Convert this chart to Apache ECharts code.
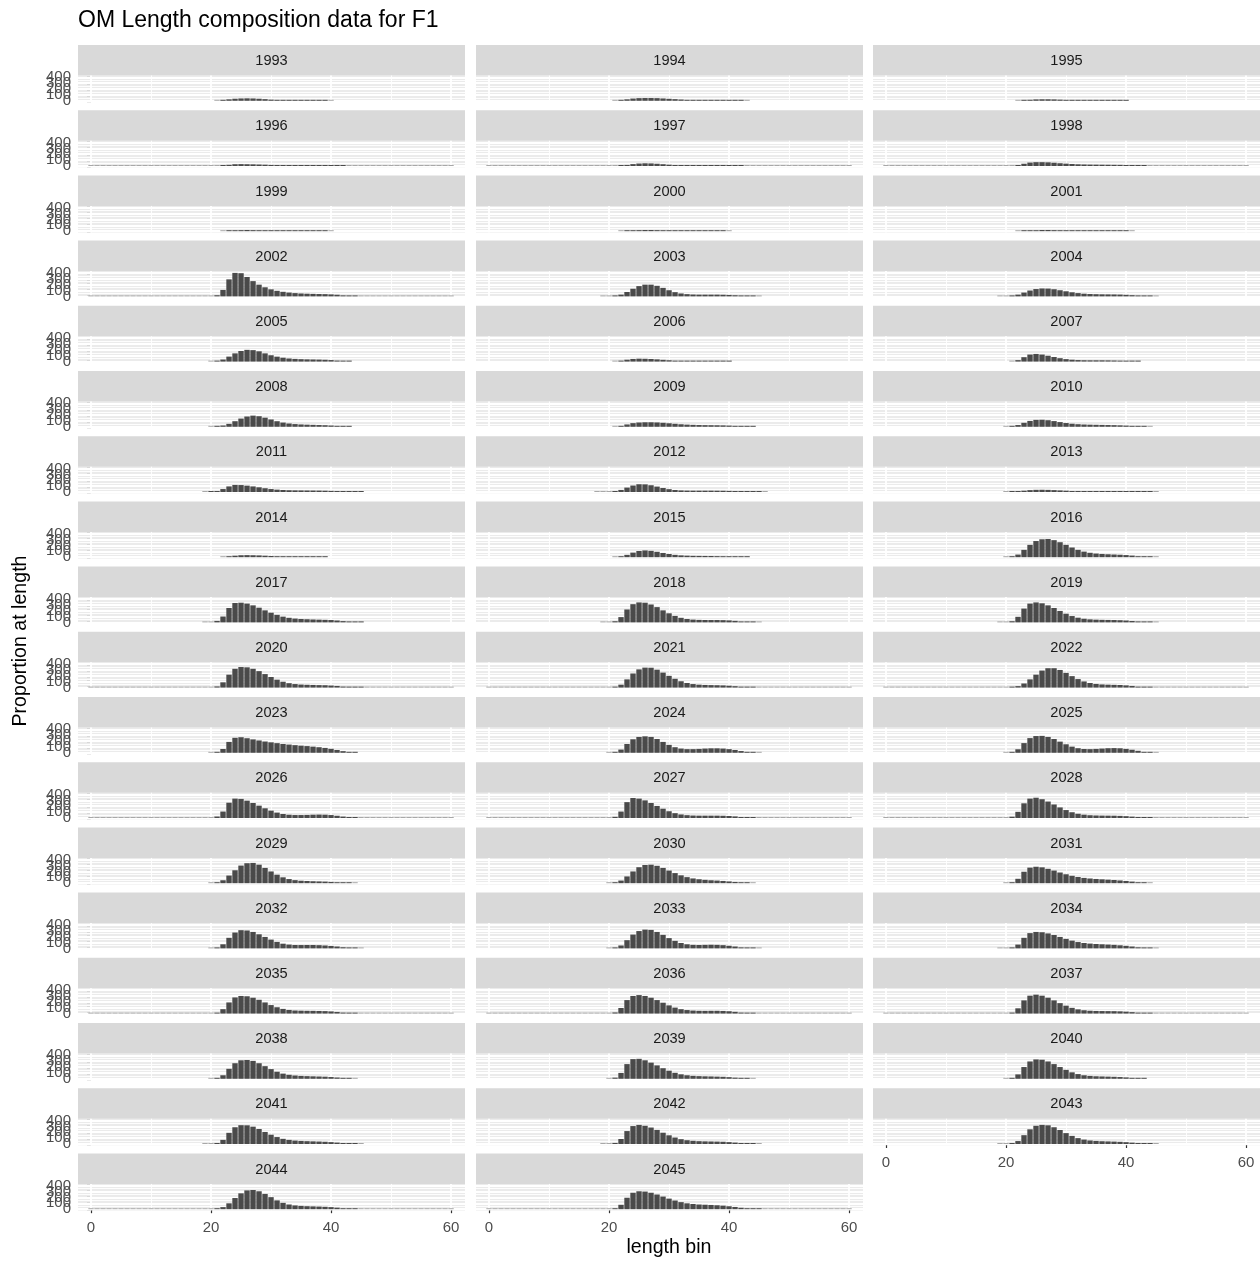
<!DOCTYPE html>
<html><head><meta charset="utf-8">
<script src="https://cdn.jsdelivr.net/npm/echarts@6/dist/echarts.min.js"></script>
<style>html,body{margin:0;padding:0;background:#fff}#c{width:1260px;height:1261px}</style>
</head><body><div id="c"></div>
<script>
// ---- data ----
const years = [1993,1994,1995,1996,1997,1998,1999,2000,2001,2002,2003,2004,2005,2006,2007,2008,2009,2010,2011,2012,2013,2014,2015,2016,2017,2018,2019,2020,2021,2022,2023,2024,2025,2026,2027,2028,2029,2030,2031,2032,2033,2034,2035,2036,2037,2038,2039,2040,2041,2042,2043,2044,2045];
// first length bin of each year's list
const binStart = [21,21,22,22,22,21,22,22,22,20,19,19,20,21,21,20,21,20,19,18,20,22,21,20,19,19,19,20,20,20,20,20,20,20,20,20,20,20,20,20,20,19,20,20,20,20,20,20,19,19,19,20,20];
// counts at consecutive length bins, one list per year
const counts = [
  [0,10,25,35,40,42,40,35,28,20,14,10,7,5,4,3,3,2,1,0],                        // 1993
  [0,10,25,38,45,47,47,45,40,34,28,22,17,14,12,10,9,8,7,5,3,1,0],              // 1994
  [0,8,18,24,26,26,24,20,16,13,10,8,7,6,5,4,3,2,1],                            // 1995
  [5,20,30,32,30,28,25,22,18,15,12,10,9,8,8,7,6,5,4,3,2],                      // 1996
  [5,18,32,42,46,44,38,30,22,16,12,10,9,9,9,10,10,9,7,4,2],                    // 1997
  [0,12,38,58,65,65,62,55,47,40,34,29,26,24,23,22,21,20,19,17,13,9,4],         // 1998
  [0,5,12,18,20,18,14,10,8,6,5,4,3,3,2,2,1,1,0],                               // 1999
  [0,5,12,18,20,20,18,15,12,9,7,5,4,4,3,3,2,1,0],                              // 2000
  [0,5,12,17,20,20,18,15,12,9,7,6,5,4,4,3,3,2,1,0],                            // 2001
  [0,20,110,290,400,395,330,260,200,155,120,95,78,65,56,50,46,43,40,38,34,28,18,8,2], // 2002
  [0,0,8,30,75,130,175,200,200,180,145,105,72,50,38,32,30,30,30,30,28,25,20,14,8,3,0], // 2003
  [0,0,8,30,65,100,125,135,133,122,105,87,70,56,46,40,37,35,34,33,31,27,21,14,8,3,0], // 2004
  [0,8,35,85,140,180,200,195,175,140,108,84,66,53,46,41,38,36,34,31,26,18,10,4],     // 2005
  [0,12,32,45,50,48,44,38,30,23,17,13,11,10,9,9,8,6,3,1],                      // 2006
  [0,25,75,120,130,120,100,78,58,42,32,26,23,22,22,22,21,19,16,11,6,2],        // 2007
  [0,6,22,50,95,140,175,190,180,155,125,95,72,56,46,40,36,33,30,27,22,15,8,3], // 2008
  [0,15,40,62,73,77,77,74,68,60,51,43,37,33,30,28,27,26,24,21,16,10,5,1],      // 2009
  [0,8,30,68,100,118,120,112,97,80,64,52,44,39,36,34,32,30,28,25,21,15,9,4,0], // 2010
  [0,3,15,50,95,120,118,108,95,80,64,50,40,34,30,28,27,26,25,24,22,19,15,10,6,3,1], // 2011
  [0,0,0,10,35,75,110,132,130,115,92,68,48,34,27,24,23,23,23,23,22,21,19,16,12,8,4,2,0], // 2012
  [0,3,10,22,32,37,38,36,32,27,22,17,14,12,11,10,10,9,9,8,7,5,3,2,1,0],        // 2013
  [0,12,25,33,35,33,30,25,20,15,11,8,6,5,4,3,2,1],                             // 2014
  [0,12,40,78,105,115,108,92,72,54,40,31,26,23,22,21,20,18,16,13,8,4,1],       // 2015
  [0,10,45,125,210,275,305,310,290,255,210,165,125,95,75,62,55,50,46,42,36,27,17,8,3,0], // 2016
  [0,0,25,100,245,330,335,320,290,250,205,165,128,98,78,65,58,54,50,47,44,40,32,22,12,5,1], // 2017
  [0,0,20,90,220,310,340,335,305,260,205,155,110,78,58,48,43,41,40,40,38,34,26,16,7,2,0], // 2018
  [0,0,20,95,235,320,340,325,290,245,195,148,108,80,62,52,47,44,42,40,37,32,24,14,6,2,0], // 2019
  [0,20,90,220,320,350,345,320,280,230,180,135,100,75,60,52,48,45,42,40,35,28,18,10,4,1], // 2020
  [0,12,50,140,240,310,340,338,305,255,200,150,108,78,60,50,45,42,40,37,32,24,14,6,2], // 2021
  [0,6,25,70,140,220,290,330,330,300,250,195,145,105,78,62,54,50,47,44,38,28,16,7,2], // 2022
  [0,15,65,185,255,265,248,228,210,192,178,164,150,140,130,121,114,105,95,83,68,48,28,12,4], // 2023
  [0,10,55,150,230,270,280,270,235,185,135,95,72,62,62,66,72,76,76,72,62,48,30,15,5,0], // 2024
  [0,12,60,165,250,285,288,270,235,190,145,105,78,65,62,66,72,78,80,77,67,52,34,17,6,0], // 2025
  [0,25,110,260,330,325,295,255,210,165,125,92,68,55,50,50,52,56,58,56,50,38,24,12,4], // 2026
  [0,20,110,270,340,330,300,255,205,158,115,82,60,48,42,40,40,40,40,38,34,27,17,8,2], // 2027
  [0,22,105,250,330,345,320,280,230,180,135,98,72,56,47,43,41,40,39,36,31,23,13,5,1], // 2028
  [0,12,50,130,220,300,340,345,315,260,200,145,100,70,52,42,37,33,30,27,22,15,8,3,0], // 2029
  [0,10,45,115,200,272,310,315,296,260,215,172,134,103,81,67,57,50,45,38,30,21,12,5,0], // 2030
  [0,15,75,195,265,280,270,245,215,182,152,126,105,90,80,72,66,60,54,47,38,27,15,6,0], // 2031
  [0,15,70,180,270,310,305,280,240,195,150,110,80,65,58,57,58,58,55,50,42,32,20,10,4,0], // 2032
  [0,10,50,140,235,295,320,315,280,230,175,128,92,70,60,58,60,62,60,55,45,32,18,8,2,0], // 2033
  [0,0,12,65,180,260,280,275,255,228,195,162,132,108,92,82,75,70,65,60,53,44,32,19,8,2,0], // 2034
  [0,15,75,190,275,300,295,270,235,190,145,108,80,62,53,50,48,47,45,42,37,28,18,9,3], // 2035
  [0,20,95,230,300,315,300,270,230,185,140,102,75,60,52,48,47,48,48,45,40,30,18,8,2], // 2036
  [0,18,90,225,305,322,305,270,225,178,135,98,72,57,49,45,43,42,41,38,33,25,15,6,2], // 2037
  [0,12,60,170,265,315,320,305,265,215,165,120,88,68,56,49,45,42,39,36,30,22,12,5,0], // 2038
  [0,20,100,250,335,340,315,275,228,180,138,102,76,60,50,45,42,40,37,34,28,20,11,4,0], // 2039
  [0,15,75,200,295,330,325,295,250,200,152,110,80,60,49,43,40,37,34,30,24,16,8,2], // 2040
  [0,0,15,70,190,285,320,318,295,255,205,158,118,88,70,58,52,48,45,42,38,32,24,14,6,2,0], // 2041
  [0,0,18,85,220,305,325,310,280,240,192,148,110,82,64,54,48,45,43,41,38,32,24,14,6,2,0], // 2042
  [0,0,10,50,150,250,310,325,318,285,238,185,138,100,75,60,52,47,44,41,37,31,23,13,5,1,0], // 2043
  [0,8,35,100,190,270,320,327,305,260,205,150,108,80,64,56,51,48,45,41,35,26,15,6,2], // 2044
  [0,15,75,195,280,305,300,280,250,215,180,148,120,100,88,80,76,72,67,60,50,38,24,12,5,1] // 2045
];
// years whose zero-count bins are drawn over the whole 0–60 range
const fullRangeYears = [1996,1997,1998,2002,2020,2021,2022,2026,2027,2028,2035,2036,2037,2044,2045];
const fullRange = [0, 60];
const xTicks = [0, 20, 40, 60];
const yTicks = [0, 100, 200, 300, 400];
const xGrid = [0, 10, 20, 30, 40, 50, 60];
const yGrid = [0, 50, 100, 150, 200, 250, 300, 350, 400];

// ---- layout ----
const FONT = '"Liberation Sans", Arial, sans-serif';
const colLeft = [78, 476, 873], panelW = 387;
const top0 = 45, rowPitch = 65.2, stripH = 30.5, plotH = 26.5;
const X_MIN = -2.17, X_MAX = 62.33, Y_MIN = -20.5, Y_MAX = 430.5;

const chart = echarts.init(document.getElementById('c'), null, {renderer: 'canvas'});
const grids = [], xAxes = [], yAxes = [], series = [], graphics = [];

years.forEach((yr, i) => {
  const r = Math.floor(i / 3), c = i % 3;
  const st = top0 + r * rowPitch;
  const n = years.length;
  const showX = i >= n - 3;
  grids.push({left: colLeft[c], top: st + stripH, width: panelW, height: plotH,
    show: true, backgroundColor: '#ebebeb', borderWidth: 0, containLabel: false, outerBoundsMode: 'none'});
  xAxes.push({type: 'value', gridIndex: i, min: X_MIN, max: X_MAX,
    axisLine: {show: false}, splitLine: {show: false},
    axisTick: {show: showX, customValues: xTicks, length: 4, lineStyle: {color: '#333333', width: 1.2}},
    axisLabel: {show: showX, customValues: xTicks, showMinLabel: true, showMaxLabel: true, hideOverlap: false, interval: 0,
      margin: 10, fontSize: 15, color: '#4d4d4d', fontFamily: FONT}});
  yAxes.push({type: 'value', gridIndex: i, min: Y_MIN, max: Y_MAX, position: 'left',
    axisLine: {show: false}, splitLine: {show: false},
    axisTick: {show: c === 0, customValues: yTicks, length: 4, lineStyle: {color: '#333333', width: 1.2}},
    axisLabel: {show: false}});

  // bars
  const start = binStart[i], vals = counts[i];
  const map = new Map();
  vals.forEach((v, k) => map.set(start + k, v));
  if (fullRangeYears.includes(yr)) {
    for (let b = fullRange[0]; b <= fullRange[1]; b++) if (!map.has(b)) map.set(b, 0);
  }
  const data = [...map.entries()].sort((a, b) => a[0] - b[0]).map(([b, v]) =>
    v === 0 ? {value: [b, v], itemStyle: {color: '#a8a8a8'}} : {value: [b, v]});

  const lines = [];
  xGrid.forEach(v => lines.push({xAxis: v, lineStyle: {color: '#ffffff', width: v % 20 === 0 ? 1.8 : 0.9, type: 'solid'}}));
  yGrid.forEach(v => lines.push({yAxis: v, lineStyle: {color: '#ffffff', width: v % 100 === 0 ? 1.8 : 0.9, type: 'solid'}}));

  series.push({type: 'bar', xAxisIndex: i, yAxisIndex: i, data: data,
    barWidth: 5.4, barMinHeight: 1, itemStyle: {color: '#4a4a4a'}, z: 10,
    silent: true, animation: false, clip: true,
    markLine: {silent: true, symbol: ['none', 'none'], animation: false, z: 1,
      label: {show: false}, emphasis: {disabled: true}, data: lines}});

  // strip
  graphics.push({type: 'rect', shape: {x: colLeft[c], y: st, width: panelW, height: stripH},
    style: {fill: '#d9d9d9'}, silent: true, z: 0});
  graphics.push({type: 'text', x: colLeft[c] + panelW / 2, y: st + stripH / 2 + 1,
    style: {text: String(yr), fill: '#1a1a1a', font: '14.6px ' + FONT, textAlign: 'center', textVerticalAlign: 'middle'},
    silent: true, z: 1});
});

graphics.push({type: 'text', x: 78, y: 21,
  style: {text: 'OM Length composition data for F1', fill: '#000000', font: '23px ' + FONT, textAlign: 'left', textVerticalAlign: 'middle'}});
graphics.push({type: 'text', x: 669, y: 1248,
  style: {text: 'length bin', fill: '#000000', font: '19.6px ' + FONT, textAlign: 'center', textVerticalAlign: 'middle'}});
graphics.push({type: 'text', x: 21, y: 641, rotation: Math.PI / 2,
  style: {text: 'Proportion at length', fill: '#000000', font: '19.6px ' + FONT, textAlign: 'center', textVerticalAlign: 'middle'}});

chart.setOption({
  animation: false,
  backgroundColor: '#ffffff',
  grid: grids, xAxis: xAxes, yAxis: yAxes, series: series,
  graphic: {elements: graphics}
});

// y tick labels of the left column: placed through the axis scale, all kept even though they overlap
const yLabelEls = [];
years.forEach((yr, i) => {
  if (i % 3 !== 0) return;
  yTicks.forEach(v => {
    const py = chart.convertToPixel({yAxisIndex: i}, v);
    yLabelEls.push({type: 'text', x: colLeft[0] - 4 - 3, y: py,
      style: {text: String(v), fill: '#4d4d4d', font: '15px ' + FONT, textAlign: 'right', textVerticalAlign: 'middle'},
      silent: true, z: 5});
  });
});
chart.setOption({graphic: {elements: graphics.concat(yLabelEls)}});
</script>
</body></html>
